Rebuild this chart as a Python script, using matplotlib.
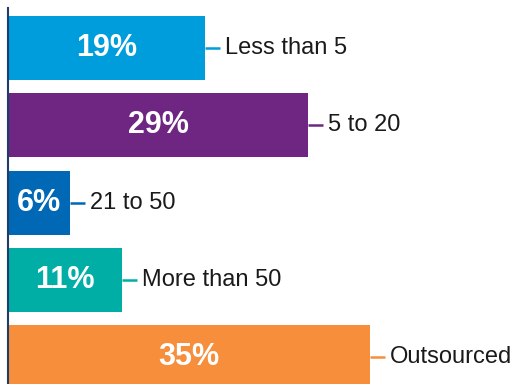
import matplotlib.pyplot as plt

categories = ["Less than 5", "5 to 20", "21 to 50", "More than 50", "Outsourced"]
values = [19, 29, 6, 11, 35]
colors = ["#009ddc", "#6f2683", "#0068b5", "#00aea5", "#f68e3c"]

plt.rcParams['font.family'] = ['Liberation Sans', 'DejaVu Sans']

fig = plt.figure(figsize=(5.19, 3.84), dpi=100)
ax = fig.add_axes([8 / 519, 0, 511 / 519, 376 / 384])

ypos = list(range(len(values)))
ax.barh(ypos, values, height=0.83, color=colors)

for y, v, c, lab in zip(ypos, values, colors, categories):
    ax.text(v / 2, y, f"{v}%", ha='center', va='center', color='white',
            fontsize=22, fontweight='bold')
    ax.plot([v, v + 1.45], [y, y], color=c, lw=1.8, solid_capstyle='butt')
    ax.text(v + 1.95, y, lab, ha='left', va='center', color='#1a1a1a', fontsize=17)

ax.set_xlim(0, 49.4)
ax.set_ylim(4.35, -0.52)
for s in ['top', 'right', 'bottom']:
    ax.spines[s].set_visible(False)
ax.spines['left'].set_color('#1f3d6b')
ax.spines['left'].set_linewidth(1.5)
ax.set_xticks([])
ax.set_yticks([])

fig.savefig("out.png", dpi=100)
